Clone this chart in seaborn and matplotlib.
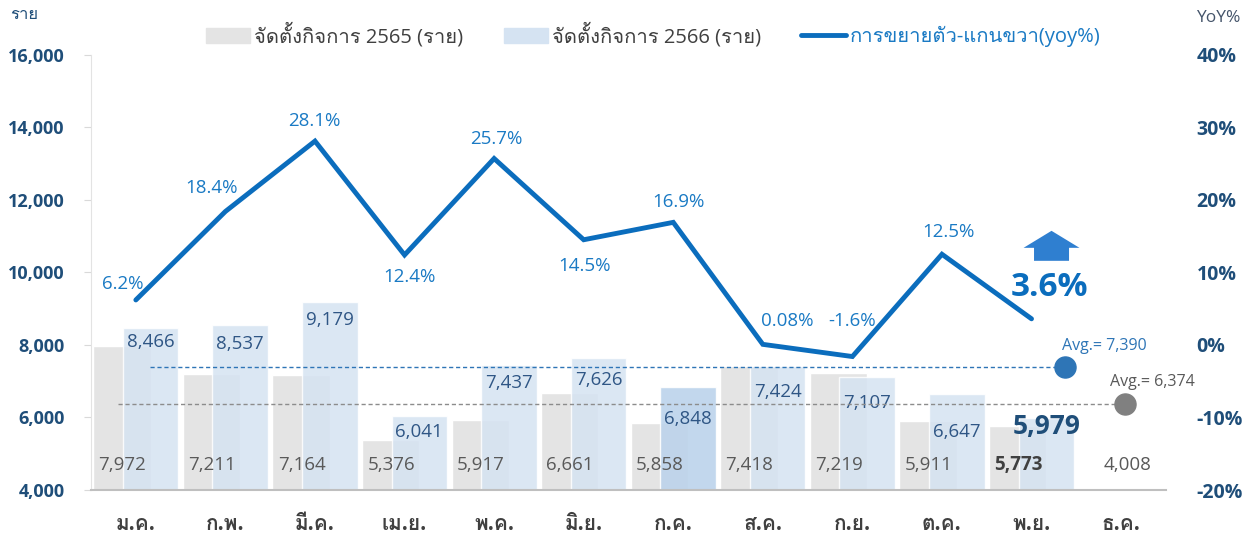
import matplotlib
matplotlib.use('Agg')
import matplotlib.pyplot as plt
import numpy as np
import pandas as pd
import seaborn as sns
from matplotlib import font_manager
from matplotlib.ft2font import FT2Font
from matplotlib.patches import Patch
from matplotlib.lines import Line2D

# data
months = ['ม.ค.', 'ก.พ.', 'มี.ค.', 'เม.ย.', 'พ.ค.', 'มิ.ย.', 'ก.ค.', 'ส.ค.', 'ก.ย.', 'ต.ค.', 'พ.ย.', 'ธ.ค.']
firms_2565 = [7972, 7211, 7164, 5376, 5917, 6661, 5858, 7418, 7219, 5911, 5773, 4008]
firms_2566 = [8466, 8537, 9179, 6041, 7437, 7626, 6848, 7424, 7107, 6647, 5979]
yoy = [6.2, 18.4, 28.1, 12.4, 25.7, 14.5, 16.9, 0.08, -1.6, 12.5, 3.6]
yoy_text = ['6.2%', '18.4%', '28.1%', '12.4%', '25.7%', '14.5%', '16.9%', '0.08%', '-1.6%', '12.5%', '3.6%']
avg_2566 = 7390
avg_2565 = 6374
left_ticks = [4000, 6000, 8000, 10000, 12000, 14000, 16000]
right_ticks = [-20, -10, 0, 10, 20, 30, 40]


def thai_font():
    for f in font_manager.fontManager.ttflist:
        try:
            if FT2Font(f.fname).get_char_index(0x0E08):
                return f.name
        except Exception:
            pass
    return 'DejaVu Sans'


sns.set_style('white')
fams = ['Open Sans', thai_font(), 'DejaVu Sans']
plt.rcParams['font.family'] = fams

GRAY = '#e4e4e4'
BLUE = '#d5e3f2'
LINE = '#0b6dbd'
DARK = '#1f4e79'

fig = plt.figure(figsize=(12.44, 5.37), dpi=100)
ax = fig.add_axes([0.0732, 0.0875, 0.864, 0.8105])

idx = np.arange(len(months))
df65 = pd.DataFrame({'pos': idx - 0.155, 'v': firms_2565})
df66 = pd.DataFrame({'pos': idx[:len(firms_2566)] + 0.165, 'v': firms_2566})
sns.barplot(data=df65, x='pos', y='v', native_scale=True, width=0.64, color=GRAY, saturation=1, ax=ax)
n65 = len(ax.patches)
sns.barplot(data=df66, x='pos', y='v', native_scale=True, width=0.62, color=BLUE, saturation=1, ax=ax)
for k, p in enumerate(ax.patches[n65:]):
    p.set_alpha(0.85)
    if months[k] == 'ก.ค.':
        p.set_facecolor('#bcd3eb')
        p.set_alpha(0.9)

ax.set_xlim(-0.5, 11.5)
ax.set_ylim(4000, 16000)
ax.set_yticks(left_ticks)
ax.set_yticklabels([f'{t:,}' for t in left_ticks], fontsize=13, fontweight='bold', color=DARK)
ax.set_xticks(idx)
ax.set_xticklabels(months, fontsize=15, fontweight='bold', color='#404040')
ax.set_xticks(np.arange(-0.5, 12, 1), minor=True)
ax.tick_params(axis='x', which='major', length=0, pad=17)
ax.tick_params(axis='x', which='minor', length=7, color='#bfbfbf', width=1.2, direction='out')
ax.tick_params(axis='y', length=5, color='#d9d9d9', direction='out', pad=14)
ax.set_xlabel('')
ax.set_ylabel('')
for s in ['top', 'right']:
    ax.spines[s].set_visible(False)
ax.spines['left'].set_color('#e3e3e3')
ax.spines['bottom'].set_color('#bfbfbf')
ax.spines['bottom'].set_linewidth(1.5)

# value labels
gray_shift = [-0.15] * 11 + [0.07]
for i, v in enumerate(firms_2565):
    bold = months[i] == 'พ.ย.'
    ax.text(i + gray_shift[i], 4700, f'{v:,}', ha='center', va='center', fontsize=13.5,
            color='#404040' if bold else '#595959', fontweight='bold' if bold else 'normal')
blue_drop = [14, 19, 18, 16, 18, 22, 32, 26, 26, 38, 8]
for i, v in enumerate(firms_2566):
    big = months[i] == 'พ.ย.'
    ax.annotate(f'{v:,}', (i + 0.165, v), xytext=(0, -blue_drop[i]), textcoords='offset pixels',
                ha='center', va='center', fontsize=19 if big else 13.5,
                fontweight='bold' if big else 'normal', color=DARK if big else '#2f5685')

# average lines
ax.plot([0.16, 10.37], [avg_2566, avg_2566], ls=(0, (3, 2)), lw=1, color='#2e75b6', zorder=3)
ax.plot([-0.2, 11.04], [avg_2565, avg_2565], ls=(0, (3, 2)), lw=1, color='#8c8c8c', zorder=3)
ax.scatter([10.37], [avg_2566], s=230, color='#2e75b6', zorder=4)
ax.scatter([11.04], [avg_2565], s=230, color='#808080', zorder=4)
ax.annotate(f'Avg.= {avg_2566:,}', (10.37, avg_2566), xytext=(40, 21), textcoords='offset pixels',
            ha='center', va='center', fontsize=11.5, color='#2e75b6')
ax.annotate(f'Avg.= {avg_2565:,}', (11.04, avg_2565), xytext=(28, 22), textcoords='offset pixels',
            ha='center', va='center', fontsize=11.5, color='#595959')

# yoy line on right axis
ax2 = ax.twinx()
sns.lineplot(x=idx[:len(yoy)], y=yoy, ax=ax2, color=LINE, lw=3.5, solid_joinstyle='miter')
ax2.set_ylim(-20, 40)
ax2.set_yticks(right_ticks)
ax2.set_yticklabels([f'{t}%' for t in right_ticks], fontsize=14, fontweight='bold', color=DARK)
ax2.tick_params(axis='y', length=0, pad=22)
for s in ['top', 'right', 'left', 'bottom']:
    ax2.spines[s].set_visible(False)

offs = [(-13, 16), (-14, 23), (-1, 20), (5, -22), (2, 20), (1, -26), (5, 20),
        (24, 23), (0, 36), (7, 22), (18, 31)]
for i, (v, t) in enumerate(zip(yoy, yoy_text)):
    last = i == len(yoy) - 1
    ax2.annotate(t, (i, v), xytext=offs[i], textcoords='offset pixels', ha='center', va='center',
                 fontsize=24 if last else 13.5, fontweight='bold' if last else 'normal',
                 color='#0b6dbd' if last else '#1a7ac4')

# up arrow over the last value
fig.canvas.draw()
base = ax2.transData.transform((len(yoy) - 1, yoy[-1]))
inv = ax2.transData.inverted()
tail = inv.transform(base + np.array([20, 58]))
head = inv.transform(base + np.array([20, 88]))
ax2.annotate('', xy=head, xytext=tail,
             arrowprops=dict(arrowstyle='simple,head_length=0.35,head_width=1.15,tail_width=0.72',
                             mutation_scale=35, color='#2f7fd0', lw=0, shrinkA=0, shrinkB=0))

# legend and axis titles
handles = [Patch(color=GRAY), Patch(color=BLUE), Line2D([], [], color=LINE, lw=3.5)]
labels = ['จัดตั้งกิจการ 2565 (ราย)', 'จัดตั้งกิจการ 2566 (ราย)', 'การขยายตัว-แกนขวา(yoy%)']
leg = fig.legend(handles, labels, loc='center', bbox_to_anchor=(0.525, 0.935), ncol=3, frameon=False,
                 fontsize=14.5, handlelength=2.2, handleheight=0.8, handletextpad=0.2, columnspacing=2.0)
for txt, c in zip(leg.get_texts(), ['#404040', '#404040', '#1a7ac4']):
    txt.set_color(c)

fig.text(10 / 1244, 1 - 15 / 537, 'ราย', fontsize=12, color=DARK, ha='left', va='center')
fig.text(1240 / 1244, 1 - 18 / 537, 'YoY%', fontsize=12.5, color='#44546a', ha='right', va='center')

fig.savefig('out.png', dpi=100)
